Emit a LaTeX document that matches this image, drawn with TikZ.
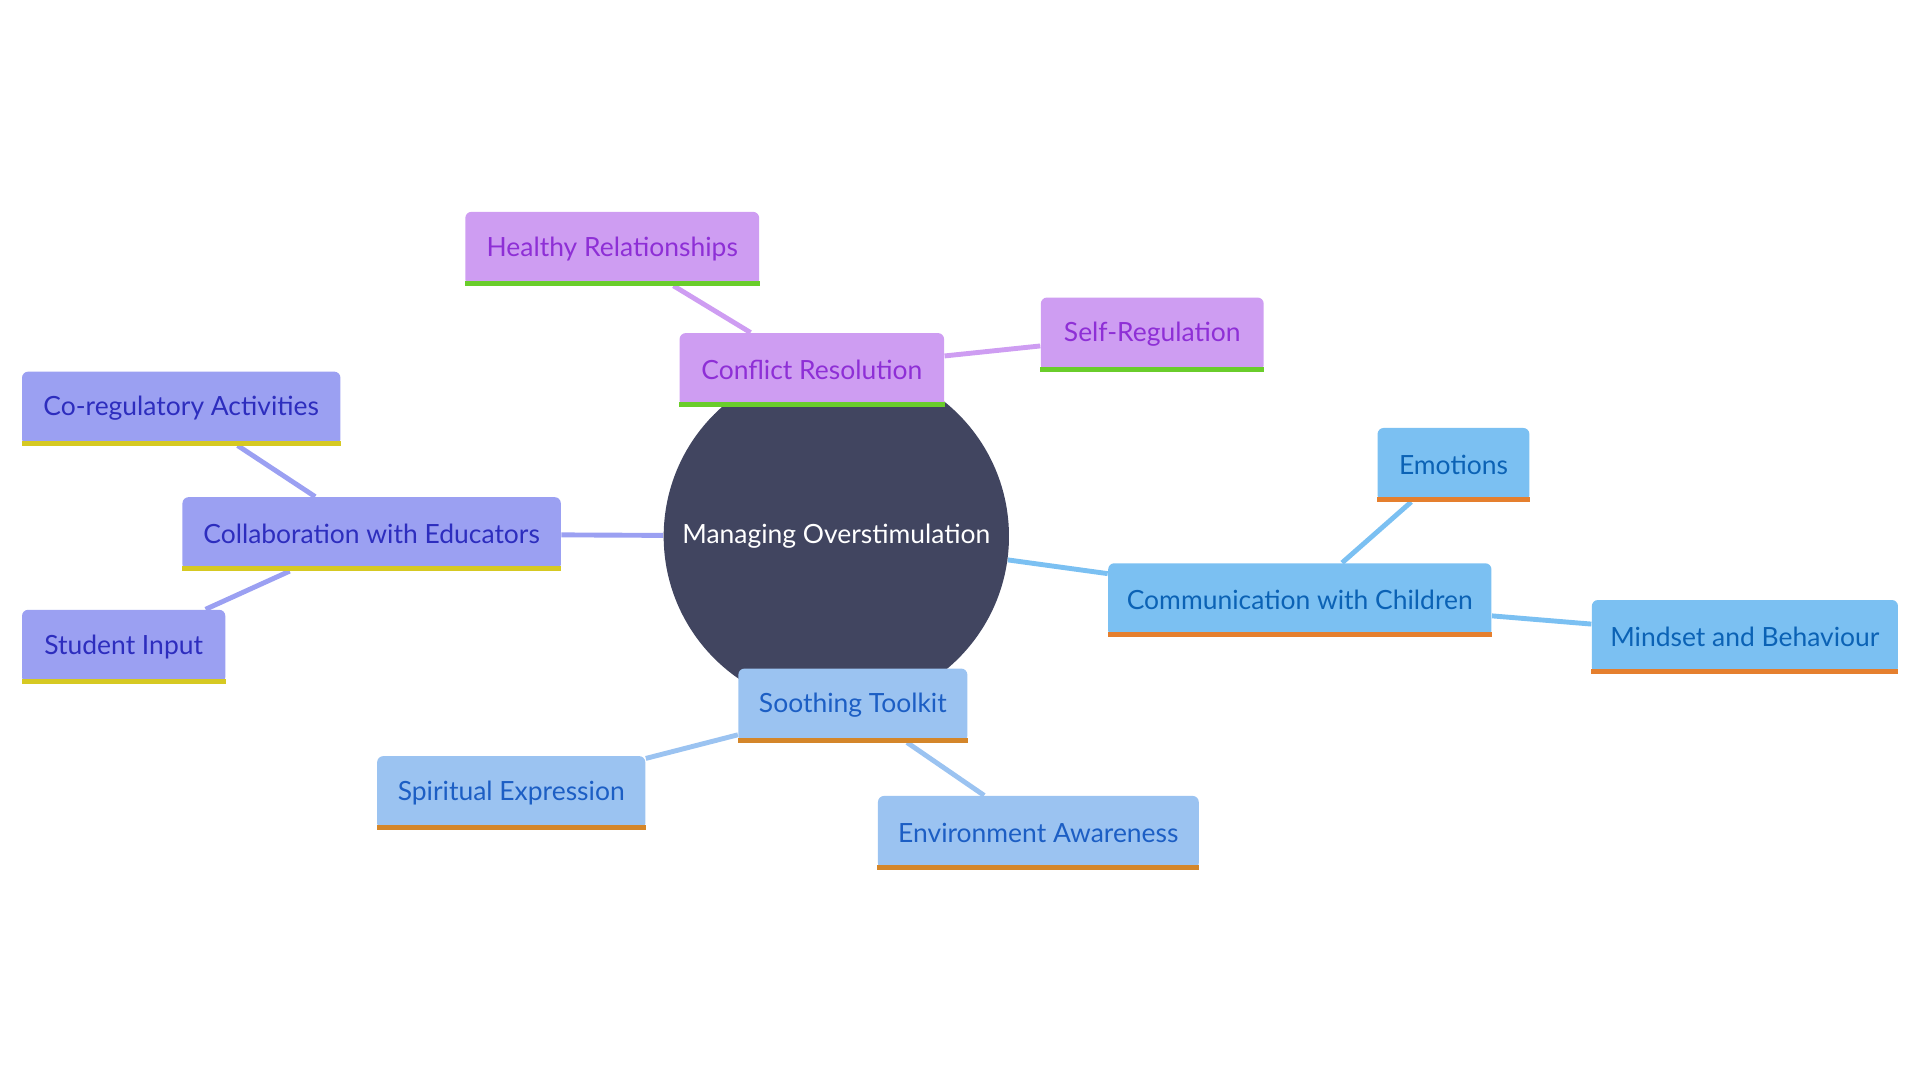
\documentclass[tikz,border=0pt]{standalone}
\usepackage{fontspec}
\setmainfont{Lato}
\usetikzlibrary{calc,backgrounds}
\definecolor{cbg}{HTML}{414560}
\definecolor{pfill}{HTML}{CE9DF2}
\definecolor{ptext}{HTML}{8E2FD6}
\definecolor{pband}{HTML}{6ACD2B}
\definecolor{vfill}{HTML}{9BA0F2}
\definecolor{vtext}{HTML}{2D2DBE}
\definecolor{vband}{HTML}{D6C922}
\definecolor{bfill}{HTML}{7BC0F2}
\definecolor{btext}{HTML}{0B62B5}
\definecolor{bband}{HTML}{E57F2E}
\definecolor{sfill}{HTML}{9BC3F1}
\definecolor{stext}{HTML}{1C5EC4}
\definecolor{sband}{HTML}{D4862A}
\tikzset{
  x=0.5pt, y=-0.5pt,
  every node/.style={font=\fontsize{10.8pt}{13pt}\selectfont},
  leaf/.style={rectangle, rounded corners=2.5pt, inner sep=0pt, minimum height=30pt},
  pbox/.style={leaf, fill=pfill, text=ptext},
  vbox/.style={leaf, fill=vfill, text=vtext},
  bbox/.style={leaf, fill=bfill, text=btext},
  sbox/.style={leaf, fill=sfill, text=stext},
  link/.style={line width=2pt},
  hub/.style={circle, fill=cbg, text=white, minimum size=141pt, inner sep=0pt},
}
\begin{document}
\begin{tikzpicture}
\useasboundingbox (0,0) rectangle (1568,882);
% nodes
\node[hub] (mo) at (683,438) {Managing Overstimulation};
\node[pbox, minimum width=108pt] (cr) at (663,302) {Conflict Resolution};
\node[pbox, minimum width=120pt] (hr) at (500,203) {Healthy Relationships};
\node[pbox, minimum width=91pt] (sr) at (941,273) {Self-Regulation};
\node[vbox, minimum width=130pt] (ca) at (148,333.5) {Co-regulatory Activities};
\node[vbox, minimum width=154.5pt] (ce) at (303.5,436) {Collaboration with Educators};
\node[vbox, minimum width=83pt] (si) at (101,528) {Student Input};
\node[bbox, minimum width=62pt] (em) at (1187,379.5) {Emotions};
\node[bbox, minimum width=156.5pt] (cc) at (1061.5,490) {Communication with Children};
\node[bbox, minimum width=125pt] (mb) at (1425,520) {Mindset and Behaviour};
\node[sbox, minimum width=93.5pt] (st) at (696.5,576) {Soothing Toolkit};
\node[sbox, minimum width=109.5pt] (se) at (417.5,647.5) {Spiritual Expression};
\node[sbox, minimum width=131pt] (ea) at (848,680) {Environment Awareness};
% bottom bands
\foreach \n/\c in {cr/pband,hr/pband,sr/pband,ca/vband,ce/vband,si/vband,em/bband,cc/bband,mb/bband,st/sband,se/sband,ea/sband}
  \fill[\c] (\n.south west) rectangle ([yshift=2pt]\n.south east);
% connectors (behind)
\begin{scope}[on background layer]
\draw[link, pfill] (mo) -- (cr);
\draw[link, pfill] (cr) -- (hr);
\draw[link, pfill] (cr) -- (sr);
\draw[link, vfill] (mo) -- (ce);
\draw[link, vfill] (ce) -- (ca);
\draw[link, vfill] (ce) -- (si);
\draw[link, bfill] (mo) -- (cc);
\draw[link, bfill] (cc) -- (em);
\draw[link, bfill] (cc) -- (mb);
\draw[link, sfill] (mo) -- (st);
\draw[link, sfill] (st) -- (se);
\draw[link, sfill] (st) -- (ea);
\end{scope}
\end{tikzpicture}
\end{document}
